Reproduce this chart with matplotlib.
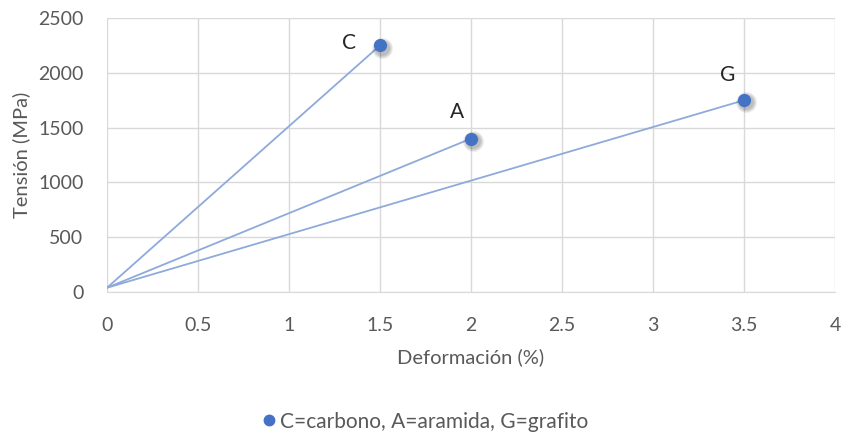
import matplotlib.pyplot as plt
import matplotlib.transforms as mtransforms
from matplotlib.lines import Line2D

plt.rcParams['font.family'] = ['Lato', 'DejaVu Sans']

# material data: end point of each stress-strain line
materials = ["C", "A", "G"]
strain = [1.5, 2.0, 3.5]          # %
stress = [2250, 1400, 1750]       # MPa
origin_strain = 0.0
origin_stress = 40
legend_text = "C=carbono, A=aramida, G=grafito"

x_ticks = [0, 0.5, 1, 1.5, 2, 2.5, 3, 3.5, 4]
y_ticks = [0, 500, 1000, 1500, 2000, 2500]

LINE_COLOR = "#8eaadb"
MARK_COLOR = "#4472c4"
TEXT_COLOR = "#595959"
GRID_COLOR = "#d9d9d9"

fig = plt.figure(figsize=(8.46, 4.36), dpi=100)
ax = fig.add_axes([0.1265, 0.330, 0.8605, 0.6287])

# soft drop shadow under the markers, shifted down-right
shadow_tr = mtransforms.offset_copy(ax.transData, fig=fig, x=1.5, y=-1.5, units="points")

for name, sx, sy in zip(materials, strain, stress):
    ax.plot([origin_strain, sx], [origin_stress, sy], color=LINE_COLOR, lw=1.3, zorder=3)
    for ms in [15, 13.5, 12, 10.5]:
        ax.plot([sx], [sy], "o", color="#000000", alpha=0.07, ms=ms, mew=0,
                transform=shadow_tr, zorder=3.5)
    ax.plot([sx], [sy], "o", color=MARK_COLOR, ms=9.5, mew=0, zorder=4)

# point labels
label_offsets = [(-22, 2), (-10, 19), (-12, 18)]
for name, sx, sy, off in zip(materials, strain, stress, label_offsets):
    ax.annotate(name, (sx, sy), xytext=off, textcoords="offset points",
                fontsize=15, color="#262626", ha="center", va="center")

ax.set_xlim(0, 4)
ax.set_ylim(0, 2500)
ax.set_xticks(x_ticks)
ax.set_xticklabels([f"{t:g}" for t in x_ticks])
ax.set_yticks(y_ticks)
ax.grid(True, color=GRID_COLOR, lw=1)
ax.set_axisbelow(True)
for side in ["top", "right", "left"]:
    ax.spines[side].set_visible(False)
ax.spines["bottom"].set_color(GRID_COLOR)
ax.tick_params(length=0, labelsize=14, colors=TEXT_COLOR)
ax.tick_params(axis="x", pad=18)
ax.tick_params(axis="y", pad=17)

ax.set_xlabel("Deformación (%)", fontsize=14.5, color=TEXT_COLOR, labelpad=10)
ax.set_ylabel("Tensión (MPa)", fontsize=14.5, color=TEXT_COLOR, labelpad=6)

handle = Line2D([], [], marker="o", ls="none", color=MARK_COLOR, ms=7.5)
fig.legend([handle], [legend_text], loc="center", bbox_to_anchor=(0.503, 0.033),
           frameon=False, fontsize=15, labelcolor=TEXT_COLOR,
           handlelength=0.6, handletextpad=0.25)

fig.savefig("out.png", dpi=100)
